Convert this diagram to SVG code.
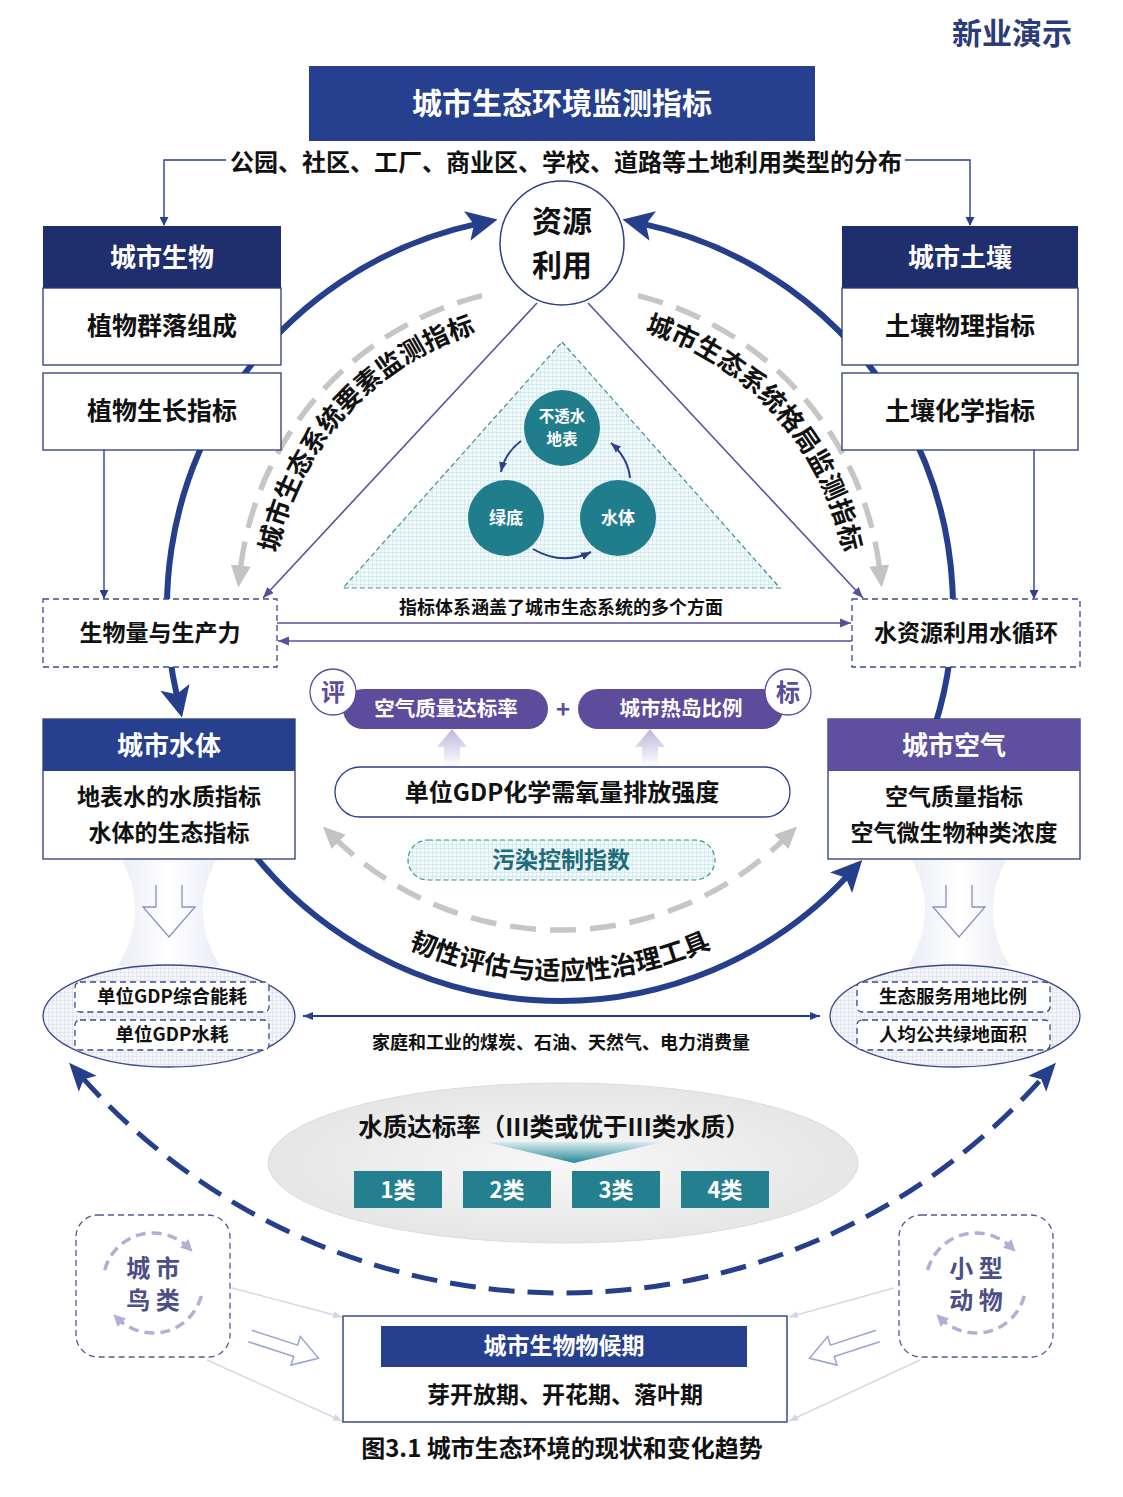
<svg xmlns="http://www.w3.org/2000/svg" width="1123" height="1497" viewBox="0 0 1123 1497">
<defs>
<style>
.t{font-family:'Noto Sans CJK SC','Noto Sans',sans-serif;font-weight:700;text-anchor:middle;dominant-baseline:central;fill:#111}
.c{transform:translateY(-2px)}
.w{fill:#fff}
.box{fill:#fff;stroke:#2c3a70;stroke-width:1.3}
.dbox{fill:#fff;stroke:#3b4a8f;stroke-width:1.3;stroke-dasharray:6 4}
.thin{fill:none;stroke:#2d3f8a;stroke-width:1.4}
.pl{fill:none;stroke:#5b4e9e;stroke-width:1.6}
.big{fill:none;stroke:#263f8c;stroke-width:6}
.gray{fill:none;stroke:#c6c6c6;stroke-width:5.5;stroke-dasharray:26 14}
.cyc{fill:none;stroke:#b4aed6;stroke-width:3.5;stroke-dasharray:10 6}
</style>
<marker id="bigA" markerUnits="userSpaceOnUse" viewBox="0 0 32 32" markerWidth="32" markerHeight="32" refX="10" refY="16" orient="auto-start-reverse"><path d="M0,1 L31,16 L0,31 L7,16 Z" fill="#263f8c"/></marker>
<marker id="dashA" markerUnits="userSpaceOnUse" viewBox="0 0 28 26" markerWidth="28" markerHeight="26" refX="8" refY="13" orient="auto-start-reverse"><path d="M0,1 L28,13 L0,25 L6,13 Z" fill="#263f8c"/></marker>
<marker id="grayA" markerUnits="userSpaceOnUse" viewBox="0 0 22 20" markerWidth="22" markerHeight="20" refX="6" refY="10" orient="auto-start-reverse"><path d="M0,0 L22,10 L0,20 Z" fill="#c3c3c3"/></marker>
<marker id="sA" markerUnits="userSpaceOnUse" viewBox="0 0 10 10" markerWidth="10" markerHeight="10" refX="10" refY="5" orient="auto-start-reverse"><path d="M0,1 L10,5 L0,9 Z" fill="#2d3f8a"/></marker>
<marker id="pA" markerUnits="userSpaceOnUse" viewBox="0 0 10 10" markerWidth="11" markerHeight="11" refX="10" refY="5" orient="auto-start-reverse"><path d="M0,1 L10,5 L0,9 Z" fill="#5b4e9e"/></marker>
<marker id="cA" markerUnits="userSpaceOnUse" viewBox="0 0 12 12" markerWidth="12" markerHeight="12" refX="6" refY="6" orient="auto"><path d="M0,0 L12,6 L0,12 Z" fill="#b4aed6"/></marker>
<marker id="lA" markerUnits="userSpaceOnUse" viewBox="0 0 10 10" markerWidth="9" markerHeight="9" refX="10" refY="5" orient="auto"><path d="M0,1 L10,5 L0,9 Z" fill="#d3d5e3"/></marker>
<marker id="tA" markerUnits="userSpaceOnUse" viewBox="0 0 10 10" markerWidth="9" markerHeight="9" refX="9" refY="5" orient="auto"><path d="M0,0 L10,5 L0,10 Z" fill="#2d3f8a"/></marker>
<pattern id="gridT" width="4" height="4" patternUnits="userSpaceOnUse"><rect width="4" height="4" fill="#f2fafb"/><path d="M0,0 H4 M0,0 V4" stroke="#9ccfd6" stroke-width="0.6"/></pattern>
<pattern id="gridB" width="4" height="4" patternUnits="userSpaceOnUse"><rect width="4" height="4" fill="#f5f6fa"/><path d="M0,0 H4 M0,0 V4" stroke="#bfc4da" stroke-width="0.6"/></pattern>
<linearGradient id="fun" x1="0" y1="0" x2="1" y2="0"><stop offset="0" stop-color="#dde0f1"/><stop offset="0.5" stop-color="#ffffff"/><stop offset="1" stop-color="#dde0f1"/></linearGradient>
<linearGradient id="upA" x1="0" y1="0" x2="0" y2="1"><stop offset="0" stop-color="#bdb6dc"/><stop offset="1" stop-color="#ffffff"/></linearGradient>
<radialGradient id="wq" cx="0.5" cy="0.5" r="0.5"><stop offset="0" stop-color="#f7f7f7"/><stop offset="1" stop-color="#e6e6e6"/></radialGradient>
<linearGradient id="tri" x1="0" y1="0" x2="0" y2="1"><stop offset="0" stop-color="#d8ecef"/><stop offset="1" stop-color="#2a8797"/></linearGradient>
<path id="pL" d="M 286.1 697 A 288 288 0 0 1 619.9 326.3"/>
<path id="pR" d="M 499.9 325.3 A 289 289 0 0 1 834.9 697.3"/>
<path id="pB" d="M 237.8 794 A 372 372 0 0 0 882.2 794"/>
</defs>
<rect width="1123" height="1497" fill="#fff"/>

<text class="t c" x="1012" y="33" font-size="30" style="fill:#2c3b7a">新业演示</text>

<g id="connectors">
<path class="big" d="M 177.2 697.1 A 393 393 0 0 1 477 223.9" marker-start="url(#bigA)" marker-end="url(#bigA)"/>
<path class="big" d="M 929.3 742.4 A 393 393 0 0 0 643 223.9" marker-end="url(#bigA)"/>
<path class="big" d="M 238.1 833.4 A 393 393 0 0 0 847.9 875.5" marker-end="url(#bigA)"/>
<path class="gray" d="M 482.1 295.6 A 322 322 0 0 0 240.1 571.5" marker-end="url(#grayA)"/>
<path class="gray" d="M 637.9 295.6 A 322 322 0 0 1 879.9 571.5" marker-end="url(#grayA)"/>
<path class="gray" d="M 334.3 837.7 A 322 322 0 0 0 785.7 837.7" marker-start="url(#grayA)" marker-end="url(#grayA)"/>
<path fill="none" stroke="#263f8c" stroke-width="5" stroke-dasharray="26 13" d="M 82.4 1077.7 A 643 643 0 0 0 1042.6 1077.7" marker-start="url(#dashA)" marker-end="url(#dashA)"/>
<path class="thin" d="M 226 160 H 164 V 225" marker-end="url(#tA)"/>
<path class="thin" d="M 905 160 H 970 V 225" marker-end="url(#tA)"/>
<path class="thin" d="M 104 450 V 598" marker-end="url(#tA)"/>
<path class="thin" d="M 1034 450 V 598" marker-end="url(#tA)"/>
<path class="pl" d="M 537 303 L 263 598" marker-end="url(#pA)"/>
<path class="pl" d="M 588 303 L 863 598" marker-end="url(#pA)"/>
<path class="pl" d="M 277 623 H 851" marker-end="url(#pA)"/>
<path class="pl" d="M 852 641 H 278" marker-end="url(#pA)"/>
<path fill="none" stroke="#263f8c" stroke-width="2" d="M 303 1016 H 820" marker-start="url(#sA)" marker-end="url(#sA)"/>
<path fill="none" stroke="#d6d8e6" stroke-width="1.5" d="M 232 1288 L 342 1317" marker-end="url(#lA)"/>
<path fill="none" stroke="#d6d8e6" stroke-width="1.5" d="M 207 1360 L 342 1421" marker-end="url(#lA)"/>
<path fill="none" stroke="#d6d8e6" stroke-width="1.5" d="M 894 1288 L 789 1317" marker-end="url(#lA)"/>
<path fill="none" stroke="#d6d8e6" stroke-width="1.5" d="M 920 1360 L 789 1421" marker-end="url(#lA)"/>
</g>

<g id="arc-labels">
<text class="t" font-size="26" style="dominant-baseline:auto"><textPath href="#pL" startOffset="50%">城市生态系统要素监测指标</textPath></text>
<text class="t" font-size="26" style="dominant-baseline:auto"><textPath href="#pR" startOffset="50%">城市生态系统格局监测指标</textPath></text>
<text class="t" font-size="26" style="dominant-baseline:auto"><textPath href="#pB" startOffset="50%">韧性评估与适应性治理工具</textPath></text>
</g>

<g id="title">
<rect x="309" y="66" width="506" height="75" fill="#263f8e"/>
<text class="t c" x="562" y="103" font-size="30" style="fill:#fff">城市生态环境监测指标</text>
</g>
<text class="t c" x="566" y="162" font-size="24">公园、社区、工厂、商业区、学校、道路等土地利用类型的分布</text>

<g id="resource">
<circle cx="562" cy="243" r="62" fill="#fff" stroke="#2d3f8a" stroke-width="1.5"/>
<text class="t c" x="562" y="221" font-size="30">资源</text>
<text class="t c" x="562" y="265" font-size="30">利用</text>
</g>

<g id="bio">
<rect x="43" y="226" width="238" height="62" fill="#1f2e6c"/>
<text class="t c" x="162" y="257" font-size="26" style="fill:#fff">城市生物</text>
<rect class="box" x="43" y="288" width="238" height="77"/>
<text class="t c" x="162" y="326" font-size="25">植物群落组成</text>
</g>
<g id="bio2">
<rect class="box" x="43" y="373" width="238" height="77"/>
<text class="t c" x="162" y="411" font-size="25">植物生长指标</text>
</g>
<g id="soil">
<rect x="842" y="226" width="236" height="62" fill="#1f2e6c"/>
<text class="t c" x="960" y="257" font-size="26" style="fill:#fff">城市土壤</text>
<rect class="box" x="842" y="288" width="236" height="77"/>
<text class="t c" x="960" y="326" font-size="25">土壤物理指标</text>
</g>
<g id="soil2">
<rect class="box" x="842" y="373" width="236" height="77"/>
<text class="t c" x="960" y="411" font-size="25">土壤化学指标</text>
</g>

<g id="triangle">
<polygon points="562,342 780,588 343,588" fill="url(#gridT)" stroke="#3a8d9a" stroke-width="1.2" stroke-dasharray="5 3"/>
<circle cx="562" cy="428" r="38" fill="#1f7d8c"/>
<text class="t c" x="562" y="417" font-size="15.5" style="fill:#fff">不透水</text>
<text class="t c" x="562" y="440" font-size="15.5" style="fill:#fff">地表</text>
<circle cx="506" cy="518" r="38" fill="#1f7d8c"/>
<text class="t c" x="506" y="518" font-size="17" style="fill:#fff">绿底</text>
<circle cx="618" cy="518" r="38" fill="#1f7d8c"/>
<text class="t c" x="618" y="518" font-size="17" style="fill:#fff">水体</text>
<path fill="none" stroke="#263f8c" stroke-width="2" d="M 521 441 Q 505 453 501 472" marker-end="url(#sA)"/>
<path fill="none" stroke="#263f8c" stroke-width="2" d="M 533 549 Q 562 566 591 552" marker-end="url(#sA)"/>
<path fill="none" stroke="#263f8c" stroke-width="2" d="M 630 478 Q 628 458 611 443" marker-end="url(#sA)"/>
</g>
<text class="t c" x="561" y="608" font-size="18">指标体系涵盖了城市生态系统的多个方面</text>

<g id="biomass">
<rect class="dbox" x="43" y="599" width="234" height="68"/>
<text class="t c" x="160" y="633" font-size="23">生物量与生产力</text>
</g>
<g id="waterres">
<rect class="dbox" x="852" y="599" width="228" height="68"/>
<text class="t c" x="966" y="633" font-size="23">水资源利用水循环</text>
</g>

<g id="water">
<rect class="box" x="43" y="719" width="252" height="140"/>
<rect x="43" y="719" width="252" height="52" fill="#263f8e"/>
<text class="t c" x="169" y="745" font-size="26" style="fill:#fff">城市水体</text>
<text class="t c" x="169" y="797" font-size="23">地表水的水质指标</text>
<text class="t c" x="169" y="833" font-size="23">水体的生态指标</text>
</g>
<g id="air">
<rect class="box" x="828" y="719" width="252" height="140" stroke="#5e4f9f"/>
<rect x="828" y="719" width="252" height="52" fill="#5e4f9f"/>
<text class="t c" x="954" y="745" font-size="26" style="fill:#fff">城市空气</text>
<text class="t c" x="954" y="797" font-size="23">空气质量指标</text>
<text class="t c" x="954" y="833" font-size="23">空气微生物种类浓度</text>
</g>

<g id="eval">
<path d="M 444 767 V 747 H 437 L 452 729 L 467 747 H 460 V 767 Z" fill="url(#upA)"/>
<path d="M 642 767 V 747 H 635 L 650 729 L 665 747 H 658 V 767 Z" fill="url(#upA)"/>
<rect x="343" y="689" width="205" height="40" rx="20" fill="#5d4b9b"/>
<text class="t c" x="446" y="709" font-size="20.5" style="fill:#fff">空气质量达标率</text>
<text class="t c" x="563" y="709" font-size="24" style="fill:#5d4b9b">+</text>
<rect x="578" y="689" width="205" height="40" rx="20" fill="#5d4b9b"/>
<text class="t c" x="681" y="709" font-size="20.5" style="fill:#fff">城市热岛比例</text>
<circle cx="333" cy="692" r="23" fill="#fff" stroke="#5d4b9b" stroke-width="1.3"/>
<text class="t c" x="333" y="692" font-size="24" style="fill:#5d4b9b">评</text>
<circle cx="788" cy="692" r="23" fill="#fff" stroke="#5d4b9b" stroke-width="1.3"/>
<text class="t c" x="788" y="692" font-size="24" style="fill:#5d4b9b">标</text>
</g>
<g id="gdp">
<rect x="335" y="767" width="455" height="50" rx="25" fill="#fff" stroke="#2d3f8a" stroke-width="1.3"/>
<text class="t c" x="562" y="792" font-size="24">单位GDP化学需氧量排放强度</text>
</g>
<g id="pollution">
<rect x="408" y="840" width="307" height="40" rx="20" fill="url(#gridT)" stroke="#3a8d9a" stroke-width="1.2" stroke-dasharray="5 3"/>
<text class="t c" x="561" y="860" font-size="23" style="fill:#1e6b7a">污染控制指数</text>
</g>

<g id="funnels">
<path d="M 122 860 C 140 895, 140 930, 118 966 L 220 966 C 198 930, 198 895, 216 860 Z" fill="url(#fun)" opacity="0.6"/>
<path d="M 156 885 V 907 H 143 L 169 937 L 195 907 H 182 V 885" fill="none" stroke="#8890c0" stroke-width="1.3"/>
<path d="M 912 860 C 930 895, 930 930, 908 966 L 1010 966 C 988 930, 988 895, 1006 860 Z" fill="url(#fun)" opacity="0.6"/>
<path d="M 946 885 V 907 H 933 L 959 937 L 985 907 H 972 V 885" fill="none" stroke="#8890c0" stroke-width="1.3"/>
</g>

<g id="energy">
<ellipse cx="169" cy="1016" rx="126" ry="51" fill="url(#gridB)" stroke="#3b4a8f" stroke-width="1.3"/>
<rect class="dbox" x="75" y="982" width="194" height="30" rx="5"/>
<text class="t c" x="172" y="997" font-size="18.5">单位GDP综合能耗</text>
<rect class="dbox" x="75" y="1020" width="194" height="30" rx="5"/>
<text class="t c" x="172" y="1035" font-size="18.5">单位GDP水耗</text>
</g>
<g id="green">
<ellipse cx="955" cy="1016" rx="125" ry="51" fill="url(#gridB)" stroke="#3b4a8f" stroke-width="1.3"/>
<rect class="dbox" x="857" y="982" width="193" height="30" rx="5"/>
<text class="t c" x="953" y="997" font-size="18.5">生态服务用地比例</text>
<rect class="dbox" x="857" y="1020" width="193" height="30" rx="5"/>
<text class="t c" x="953" y="1035" font-size="18.5">人均公共绿地面积</text>
</g>
<text class="t c" x="561" y="1043" font-size="18">家庭和工业的煤炭、石油、天然气、电力消费量</text>

<g id="waterquality">
<ellipse cx="563" cy="1163" rx="295" ry="80" fill="url(#wq)" stroke="#dcdcdc" stroke-width="1"/>
<polygon points="486,1142 662,1142 574,1163" fill="url(#tri)"/>
<text class="t c" x="554" y="1127" font-size="24.5">水质达标率（III类或优于III类水质）</text>
<rect x="354" y="1171" width="88" height="37" fill="#24808f"/>
<text class="t c" x="398" y="1190" font-size="22" style="fill:#fff">1类</text>
<rect x="463" y="1171" width="88" height="37" fill="#24808f"/>
<text class="t c" x="507" y="1190" font-size="22" style="fill:#fff">2类</text>
<rect x="572" y="1171" width="88" height="37" fill="#24808f"/>
<text class="t c" x="616" y="1190" font-size="22" style="fill:#fff">3类</text>
<rect x="681" y="1171" width="88" height="37" fill="#24808f"/>
<text class="t c" x="725" y="1190" font-size="22" style="fill:#fff">4类</text>
</g>

<g id="birds">
<rect x="76" y="1215" width="154" height="142" rx="22" fill="#fff" stroke="#4e5b95" stroke-width="1.3" stroke-dasharray="6 4"/>
<path class="cyc" d="M 104.7 1270.1 A 50 50 0 0 1 188.4 1247.6" marker-end="url(#cA)"/>
<path class="cyc" d="M 201.3 1295.9 A 50 50 0 0 1 117.6 1318.4" marker-end="url(#cA)"/>
<text class="t c" x="153" y="1268" font-size="24" style="fill:#4b4f86">城 市</text>
<text class="t c" x="153" y="1300" font-size="24" style="fill:#4b4f86">鸟 类</text>
</g>
<g id="animals">
<rect x="899" y="1215" width="154" height="142" rx="22" fill="#fff" stroke="#4e5b95" stroke-width="1.3" stroke-dasharray="6 4"/>
<path class="cyc" d="M 927.7 1270.1 A 50 50 0 0 1 1011.4 1247.6" marker-end="url(#cA)"/>
<path class="cyc" d="M 1024.3 1295.9 A 50 50 0 0 1 940.6 1318.4" marker-end="url(#cA)"/>
<text class="t c" x="976" y="1268" font-size="24" style="fill:#4b4f86">小 型</text>
<text class="t c" x="976" y="1300" font-size="24" style="fill:#4b4f86">动 物</text>
</g>
<g id="hollow-arrows">
<path transform="translate(250,1336) rotate(18)" d="M0,-6 L48,-6 L48,-15 L72,0 L48,15 L48,6 L0,6" fill="#fff" stroke="#9aa4d0" stroke-width="1.5"/>
<path transform="translate(878,1336) rotate(162)" d="M0,-6 L48,-6 L48,-15 L72,0 L48,15 L48,6 L0,6" fill="#fff" stroke="#9aa4d0" stroke-width="1.5"/>
</g>
<g id="phenology">
<rect x="343" y="1316" width="444" height="106" fill="#fff" stroke="#3a4a8f" stroke-width="1.5"/>
<rect x="381" y="1326" width="366" height="41" fill="#263f8e"/>
<text class="t c" x="564" y="1346" font-size="23" style="fill:#fff">城市生物物候期</text>
<text class="t c" x="565" y="1395" font-size="23">芽开放期、开花期、落叶期</text>
</g>
<text class="t c" x="562" y="1448" font-size="24">图3.1 城市生态环境的现状和变化趋势</text>
</svg>
